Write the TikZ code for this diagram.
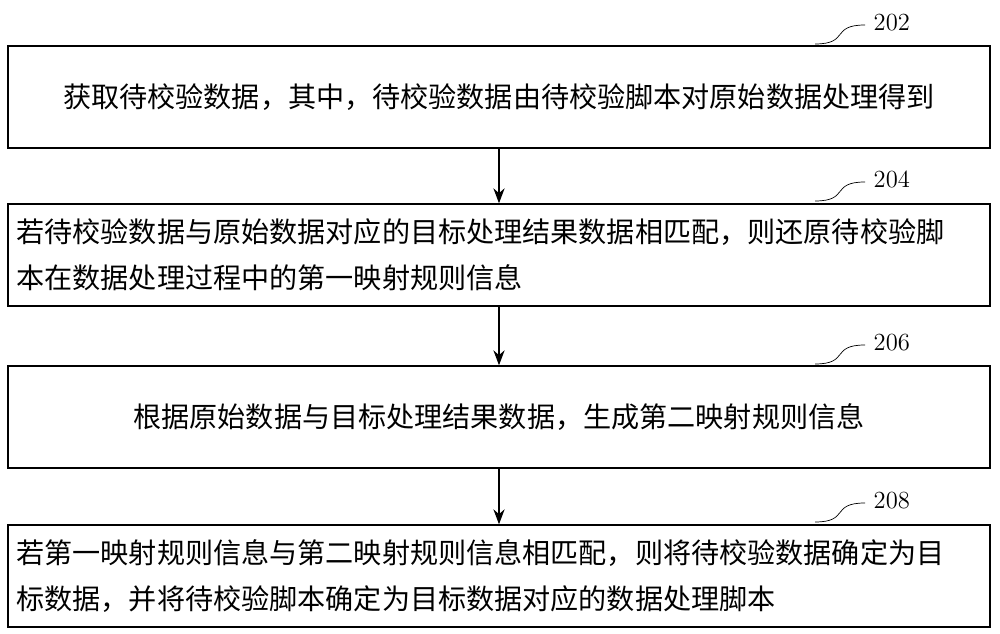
\documentclass[tikz,border=0pt]{standalone}
\usepackage{fontspec}
\newfontfamily\cjk{Noto Sans CJK SC}
\usetikzlibrary{arrows.meta,positioning,calc}
\tikzset{
	stepbox/.style={draw,thick,minimum width=19.64cm,minimum height=2.04cm,text width=19.3cm,font=\cjk\fontsize{16}{26}\selectfont,inner sep=0pt},
	lbl/.style={font=\fontsize{14}{16}\selectfont,anchor=west},
}
\begin{document}
\begin{tikzpicture}
	\useasboundingbox (0,0) rectangle (20,12.68);
	\node (s1) at (9.98,10.74) [stepbox,align=center] {获取待校验数据，其中，待校验数据由待校验脚本对原始数据处理得到};
	\node (s2) at (9.98,7.58) [stepbox,align=left] {若待校验数据与原始数据对应的目标处理结果数据相匹配，则还原待校验脚\\本在数据处理过程中的第一映射规则信息};
	\node (s3) at (9.98,4.34) [stepbox,align=center] {根据原始数据与目标处理结果数据，生成第二映射规则信息};
	\node (s4) at (9.98,1.16) [stepbox,align=left] {若第一映射规则信息与第二映射规则信息相匹配，则将待校验数据确定为目\\标数据，并将待校验脚本确定为目标数据对应的数据处理脚本};
	\draw[-{Stealth[length=3mm]},thick] (s1) -- (s2);
	\draw[-{Stealth[length=3mm]},thick] (s2) -- (s3);
	\draw[-{Stealth[length=3mm]},thick] (s3) -- (s4);
	% step numbers
	\foreach \n/\y in {202/11.76,204/8.62,206/5.36,208/2.2}{
		\coordinate (a\n) at (16.3,\y+0.04);
		\coordinate (b\n) at (17.3,\y+0.42);
		\draw (a\n) .. controls (17.0,\y+0.04) and (16.6,\y+0.42) .. (b\n);
		\node[lbl] (n\n) at ($(b\n)+(0.05,0.05)$) {\n};
	}
\end{tikzpicture}
\end{document}
